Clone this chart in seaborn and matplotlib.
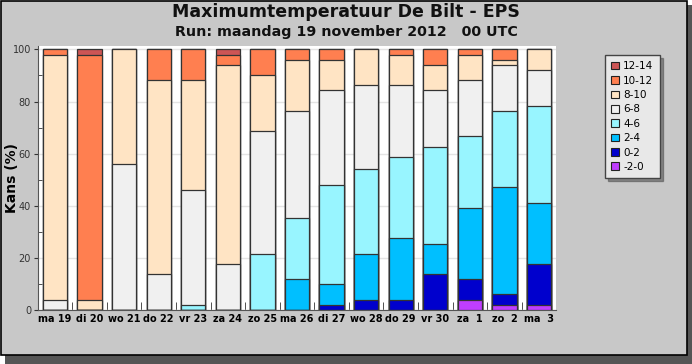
import numpy as np
import matplotlib
matplotlib.use("Agg")
import matplotlib.pyplot as plt
import matplotlib.patches as mpatches
import seaborn as sns

days = ["ma 19", "di 20", "wo 21", "do 22", "vr 23", "za 24", "zo 25", "ma 26",
        "di 27", "wo 28", "do 29", "vr 30", "za  1", "zo  2", "ma  3"]

# kans (%) per temperatuurklasse, per dag
k_m2_0 = [0, 0, 0, 0, 0, 0, 0, 0, 0, 0, 0, 0, 3.9, 2, 2]
k_0_2 = [0, 0, 0, 0, 0, 0, 0, 0, 2, 4, 4, 13.7, 8.1, 4, 15.6]
k_2_4 = [0, 0, 0, 0, 0, 0, 0, 11.8, 7.8, 17.6, 23.5, 11.8, 27.2, 41.1, 23.6]
k_4_6 = [0, 0, 0, 0, 2, 0, 21.6, 23.5, 38.2, 32.4, 31.3, 37.2, 27.5, 29.4, 37.2]
k_6_8 = [3.9, 0, 56, 13.7, 44, 17.6, 47, 41.2, 36.3, 32.3, 27.5, 21.6, 21.5, 17.6, 13.8]
k_8_10 = [94.1, 3.9, 44, 74.5, 42.2, 76.5, 21.6, 19.6, 11.8, 13.7, 11.7, 9.8, 9.8, 2, 7.8]
k_10_12 = [2, 94.1, 0, 11.8, 11.8, 3.9, 9.8, 3.9, 3.9, 0, 2, 5.9, 2, 3.9, 0]
k_12_14 = [0, 2, 0, 0, 0, 2, 0, 0, 0, 0, 0, 0, 0, 0, 0]

classes = ["-2-0", "0-2", "2-4", "4-6", "6-8", "8-10", "10-12", "12-14"]
series = [k_m2_0, k_0_2, k_2_4, k_4_6, k_6_8, k_8_10, k_10_12, k_12_14]
colors = ["#bf3eff", "#0000cd", "#00bfff", "#98f5ff", "#f0f0f0", "#ffe4c4",
          "#ff7f50", "#cd5555"]

plt.rcParams["font.family"] = ["DejaVu Sans"]

fig = plt.figure(figsize=(6.92, 3.64), dpi=100, facecolor="white")

# achtergrondkader met schaduw
fig.patches.append(mpatches.Rectangle((5 / 692, 0), 1 - 5 / 692, 1 - 5 / 364,
                                      transform=fig.transFigure, facecolor="#555555",
                                      edgecolor="none", zorder=-10))
fig.patches.append(mpatches.Rectangle((0.5 / 692, 9 / 364), 686 / 692, 1 - 9.5 / 364,
                                      transform=fig.transFigure, facecolor="#c8c8c8",
                                      edgecolor="black", linewidth=1.2, zorder=-9))

ax = fig.add_axes([38 / 692, (364 - 310) / 364, (556 - 38) / 692, (310 - 46) / 364])
ax.set_facecolor("white")

cum = np.cumsum(np.array(series), axis=0)
# stapelen: hoogste cumulatief eerst tekenen
for i in range(len(classes) - 1, -1, -1):
    sns.barplot(x=days, y=cum[i], color=colors[i], saturation=1, width=0.7,
                edgecolor="#333333", linewidth=0.9, ax=ax, zorder=3)

ax.set_xlim(-0.49, 14.49)
ax.set_ylim(0, 101.3)
ax.set_yticks(range(0, 101, 20))
ax.set_yticks(range(10, 100, 20), minor=True)
ax.yaxis.grid(True, color="#e4e4e4", linewidth=1)
ax.set_axisbelow(True)
ax.tick_params(axis="y", which="major", direction="out", length=3, labelsize=7,
               colors="#333333", pad=2)
ax.tick_params(axis="y", which="minor", direction="in", length=3, color="#333333")
ax.set_xticks(np.arange(0.5, 14.5, 1), minor=True)
ax.tick_params(axis="x", which="major", length=0, labelsize=7, pad=3)
ax.tick_params(axis="x", which="minor", direction="in", length=6, color="#333333")
for lab in ax.get_xticklabels():
    lab.set_fontweight("bold")
for side in ["top", "right"]:
    ax.spines[side].set_visible(False)
ax.spines["left"].set_color("#555555")
ax.spines["bottom"].set_color("#555555")
ax.set_xlabel("")
ax.set_ylabel("Kans (%)", fontsize=10, fontweight="bold")
ax.yaxis.set_label_coords(-19 / 518, 0.5)

fig.text(0.5, 1 - 12 / 364, "Maximumtemperatuur De Bilt - EPS", ha="center",
         va="center", fontsize=12.5, fontweight="bold", color="#111111")
fig.text(0.5, 1 - 32 / 364, "Run: maandag 19 november 2012   00 UTC", ha="center",
         va="center", fontsize=10.3, fontweight="bold", color="#111111")

handles = [mpatches.Patch(facecolor=colors[i], edgecolor="#222222", linewidth=0.8,
                          label=classes[i]) for i in range(len(classes) - 1, -1, -1)]
leg = fig.legend(handles=handles, loc="upper left",
                 bbox_to_anchor=(605 / 692, 1 - 55 / 364), fontsize=7.5,
                 handlelength=0.75, handleheight=0.75, handletextpad=0.4,
                 labelspacing=0.42, borderpad=0.6, borderaxespad=0, fancybox=False,
                 shadow={"ox": 2, "oy": -2, "color": "#444444"}, framealpha=1)
leg.get_frame().set_facecolor("#e8e8e8")
leg.get_frame().set_edgecolor("#444444")

fig.savefig("out.png", dpi=100, facecolor=fig.get_facecolor())
